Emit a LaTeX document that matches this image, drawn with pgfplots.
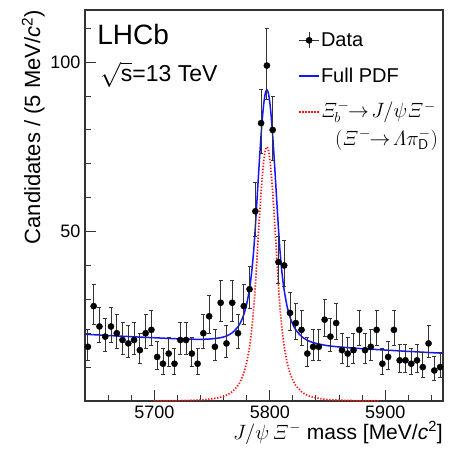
\documentclass[border=0pt]{standalone}
\usepackage[no-math]{fontspec}
\setmainfont{Liberation Sans}
\usepackage{pgfplots}
\pgfplotsset{compat=1.18}
\usepackage{pgfplotstable}
\definecolor{pdfblue}{RGB}{20,20,255}
\definecolor{sigred}{RGB}{255,20,20}

\pgfplotstableread{
x y ep em
5642.5 16 5.09 3.97
5647.5 28 6.36 5.27
5652.5 22 5.77 4.66
5657.5 19 5.44 4.33
5662.5 22 5.77 4.66
5667.5 20 5.56 4.44
5672.5 18 5.33 4.21
5677.5 17 5.21 4.09
5682.5 18 5.33 4.21
5687.5 15 4.97 3.84
5692.5 20 5.56 4.44
5697.5 21 5.66 4.56
5702.5 13 4.71 3.57
5707.5 11 4.43 3.28
5712.5 14 4.84 3.71
5717.5 11 4.43 3.28
5722.5 18 5.33 4.21
5727.5 18 5.33 4.21
5732.5 14 4.84 3.71
5737.5 11 4.43 3.28
5742.5 20 5.56 4.44
5747.5 25 6.07 4.97
5752.5 16 5.09 3.97
5757.5 29 6.45 5.36
5762.5 17 5.21 4.09
5767.5 29 6.45 5.36
5772.5 20 5.56 4.44
5777.5 28 6.36 5.27
5782.5 33 6.81 5.72
5787.5 56 8.53 7.47
5792.5 82 10.10 9.04
5797.5 99 10.99 9.94
5802.5 80 9.99 8.93
5807.5 41 7.46 6.38
5812.5 40 7.38 6.30
5817.5 26 6.17 5.07
5822.5 23 5.87 4.77
5827.5 21 5.66 4.56
5832.5 14 4.84 3.71
5837.5 16 5.09 3.97
5842.5 16 5.09 3.97
5847.5 24 5.97 4.87
5852.5 19 5.44 4.33
5857.5 23 5.87 4.77
5862.5 15 4.97 3.84
5867.5 14 4.84 3.71
5872.5 15 4.97 3.84
5877.5 21 5.66 4.56
5882.5 15 4.97 3.84
5887.5 16 5.09 3.97
5892.5 21 5.66 4.56
5897.5 11 4.43 3.28
5902.5 13 4.71 3.57
5907.5 21 5.66 4.56
5912.5 12 4.57 3.43
5917.5 12 4.57 3.43
5922.5 11 4.43 3.28
5927.5 12 4.57 3.43
5932.5 10 4.28 3.12
5937.5 17 5.21 4.09
5942.5 9 4.12 2.96
5947.5 10 4.28 3.12
}\datatab

\pgfplotstableread{
x s
5700 0.05
5720 0.10
5737.5 0.27
5747.5 0.52
5757.5 1.11
5762.5 1.71
5767.5 2.74
5772.5 4.62
5775 6.14
5777.5 8.29
5780 11.41
5782.5 16.05
5783.75 19.21
5785 23.16
5786.25 28.13
5787.5 34.33
5788.75 41.24
5790 48.33
5791.25 55.27
5792.5 61.69
5793.75 67.19
5795 71.42
5796.25 74.09
5797.5 75.00
5798.75 74.09
5800 71.42
5801.25 67.19
5802.5 61.69
5803.75 55.27
5805 48.33
5806.25 41.24
5807.5 34.33
5808.75 28.13
5810 23.16
5811.25 19.21
5812.5 16.05
5815 11.41
5817.5 8.29
5820 6.14
5822.5 4.62
5827.5 2.74
5832.5 1.71
5837.5 1.11
5847.5 0.52
5857.5 0.27
5875 0.10
5895 0.05
}\sigtab

\pgfplotstableread{
x f
5640 19.70
5660 19.34
5680 18.98
5700 18.67
5720 18.36
5737.5 18.21
5747.5 18.28
5757.5 18.69
5762.5 19.20
5767.5 20.14
5772.5 21.93
5775 23.40
5777.5 25.51
5780 28.58
5782.5 33.18
5783.75 36.31
5785 40.24
5786.25 45.19
5787.5 51.37
5788.75 58.25
5790 65.32
5791.25 72.24
5792.5 78.64
5793.75 84.11
5795 88.32
5796.25 90.97
5797.5 91.86
5798.75 90.92
5800 88.23
5801.25 83.98
5802.5 78.46
5803.75 72.01
5805 65.05
5806.25 57.94
5807.5 51.01
5808.75 44.78
5810 39.79
5811.25 35.82
5812.5 32.64
5815 27.95
5817.5 24.79
5820 22.59
5822.5 21.03
5827.5 19.05
5832.5 17.93
5837.5 17.24
5847.5 16.47
5857.5 16.04
5875 15.56
5895 15.14
5920 14.64
5950 14.10
}\fulltab

\begin{document}
\begin{tikzpicture}
\path[use as bounding box] (-85pt,-50pt) rectangle (371pt,401pt);
\begin{axis}[
  at={(0pt,0pt)}, anchor=south west,
  width=358pt, height=391pt, scale only axis,
  xmin=5640, xmax=5950, ymin=0, ymax=115.4,
  xtick={5700,5800,5900},
  minor xtick={5660,5680,5720,5740,5760,5780,5820,5840,5860,5880,5920,5940},
  ytick={50,100},
  minor ytick={10,20,30,40,60,70,80,90,110},
  tick align=inside, tick pos=left,
  major tick length=11pt, minor tick length=6pt,
  axis line style={line width=1.2pt, black!80},
  every tick/.style={black!80, line width=1pt},
  /pgf/number format/assume math mode=true,
  /pgf/number format/1000 sep={},
  tick label style={font=\fontsize{18}{21}\selectfont},
  xticklabel style={yshift=-1pt},
  yticklabel style={xshift=-1pt},
  ylabel={Candidates / (5 MeV/\textit{c}\textsuperscript{2})},
  ylabel style={font=\fontsize{22}{26}\selectfont, at={(axis description cs:-0.112,1)}, anchor=south east, inner sep=0pt},
  xlabel={$J/\psi\,\mathit{\Xi}^{-}$ mass [MeV/\textit{c}\textsuperscript{2}]},
  xlabel style={font=\fontsize{21}{25}\selectfont, at={(axis description cs:1,-0.052)}, anchor=north east, inner sep=0pt},
  legend style={draw=none, fill=none, at={(axis description cs:0.595,0.945)}, anchor=north west,
    font=\fontsize{20}{24}\selectfont, row sep=18pt, inner sep=0pt,
    nodes={inner sep=1pt}},
  legend cell align=left,
]
\addlegendimage{legend image code/.code={
  \draw[black!80, line width=0.8pt] (0pt,0pt) -- (20pt,0pt);
  \draw[black!80, line width=0.8pt] (10pt,-8pt) -- (10pt,8pt);
  \fill[black] (10pt,0pt) circle (3.1pt);}}
\addlegendentry{Data}
\addlegendimage{legend image code/.code={\draw[pdfblue, line width=1.5pt] (0pt,0pt) -- (20pt,0pt);}}
\addlegendentry{Full PDF}
\addlegendimage{legend image code/.code={\draw[sigred, line width=1.8pt, dash pattern=on 1.5pt off 1.5pt] (0pt,0pt) -- (20pt,0pt);}}
\addlegendentry{\raisebox{0pt}[14pt][9pt]{$\mathit{\Xi}_b^{-}\!\!\rightarrow\! J/\psi\mathit{\Xi}^{-}$}}
\addlegendimage{empty legend}
\addlegendentry{\raisebox{0pt}[6pt][5pt]{\hspace{14pt}$(\mathit{\Xi}^{-}\!\!\rightarrow\!\mathit{\Lambda}\pi^{-}_{\mathsf{D}})$}}

\addplot[forget plot, sigred, line width=1.7pt, dash pattern=on 1.3pt off 1.7pt, smooth] table[x=x, y=s] {\sigtab};
\addplot[forget plot, pdfblue, line width=1.5pt, smooth] table[x=x, y=f] {\fulltab};
\addplot[forget plot, only marks, mark=*, mark size=3.1pt, black,
  error bars/.cd, y dir=both, y explicit,
  error bar style={black!80, line width=0.8pt},
  error mark options={black!80, line width=0.8pt, mark size=2pt, rotate=90}]
  table[x=x, y=y, y error plus=ep, y error minus=em] {\datatab};

\node[anchor=base west, font=\fontsize{28}{30}\selectfont, inner sep=0pt] at (rel axis cs:0.034,0.912) {LHCb};
\node[anchor=base west, font=\fontsize{23}{26}\selectfont, inner sep=0pt] at (rel axis cs:0.042,0.816) {$\sqrt{\mbox{s}}$=13 TeV};
\end{axis}
\end{tikzpicture}
\end{document}
